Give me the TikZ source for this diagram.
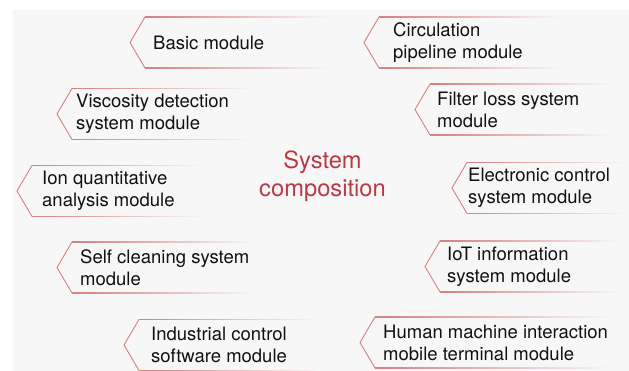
\documentclass[tikz,border=0pt]{standalone}
\usepackage{fontspec}
\setmainfont{TeX Gyre Heros}
\definecolor{bgc}{HTML}{F7F7F7}
\definecolor{linec}{HTML}{D4807F}
\definecolor{titlec}{HTML}{B83A44}
\definecolor{txtc}{HTML}{111111}
\tikzset{
  modtext/.style={anchor=west, align=left, inner sep=0pt, text=txtc,
    font=\fontsize{18.5}{22}\selectfont},
  titletext/.style={align=center, inner sep=0pt, text=titlec,
    font=\fontsize{23.7}{28}\selectfont},
  chev/.style={draw=linec, line width=0.9pt, line join=miter},
}
% #1 tip x, #2 tip y, #3 right end x
\newcommand\modtag[3]{%
  \draw[chev] (#1+15,#2-25.5) -- (#1,#2) -- (#1+15,#2+25.5);
  \shade[left color=linec, right color=bgc] (#1+15,#2-25.95) rectangle (#3,#2-25.05);
  \shade[left color=linec, right color=bgc] (#1+15,#2+25.05) rectangle (#3,#2+25.95);
}
\begin{document}
\begin{tikzpicture}[x=1pt,y=-1pt]
\useasboundingbox (0,0) rectangle (629,371);
\fill[white] (0,0) rectangle (629,371);
\fill[bgc] (13,10) rectangle (629,371);

\modtag{130}{42.5}{330}
\node[modtext] (basic) at (153,42.5) {Basic module};

\modtag{364}{42.5}{560}
\node[modtext] (circ) at (393,42.5) {Circulation\\pipeline module};

\modtag{57}{114}{255}
\node[modtext] (visc) at (76,114) {Viscosity detection\\system module};

\modtag{415}{109.5}{610}
\node[modtext] (filt) at (437,109.5) {Filter loss system\\module};

\modtag{17}{191}{205}
\node[modtext] (ion) at (42,191) {Ion quantitative\\analysis module};

\modtag{452}{188}{629}
\node[modtext] (elec) at (468,188) {Electronic control\\system module};

\modtag{57}{267.5}{255}
\node[modtext] (self) at (80,267.5) {Self cleaning system\\module};

\modtag{425}{266.5}{620}
\node[modtext] (iot) at (447,266.5) {IoT information\\system module};

\modtag{124}{345}{320}
\node[modtext] (indu) at (151,345) {Industrial control\\software module};

\modtag{360}{342.5}{612}
\node[modtext] (human) at (383,342.5) {Human machine interaction\\mobile terminal module};

\node[titletext] (title) at (322.5,176) {System\\composition};
\end{tikzpicture}
\end{document}
